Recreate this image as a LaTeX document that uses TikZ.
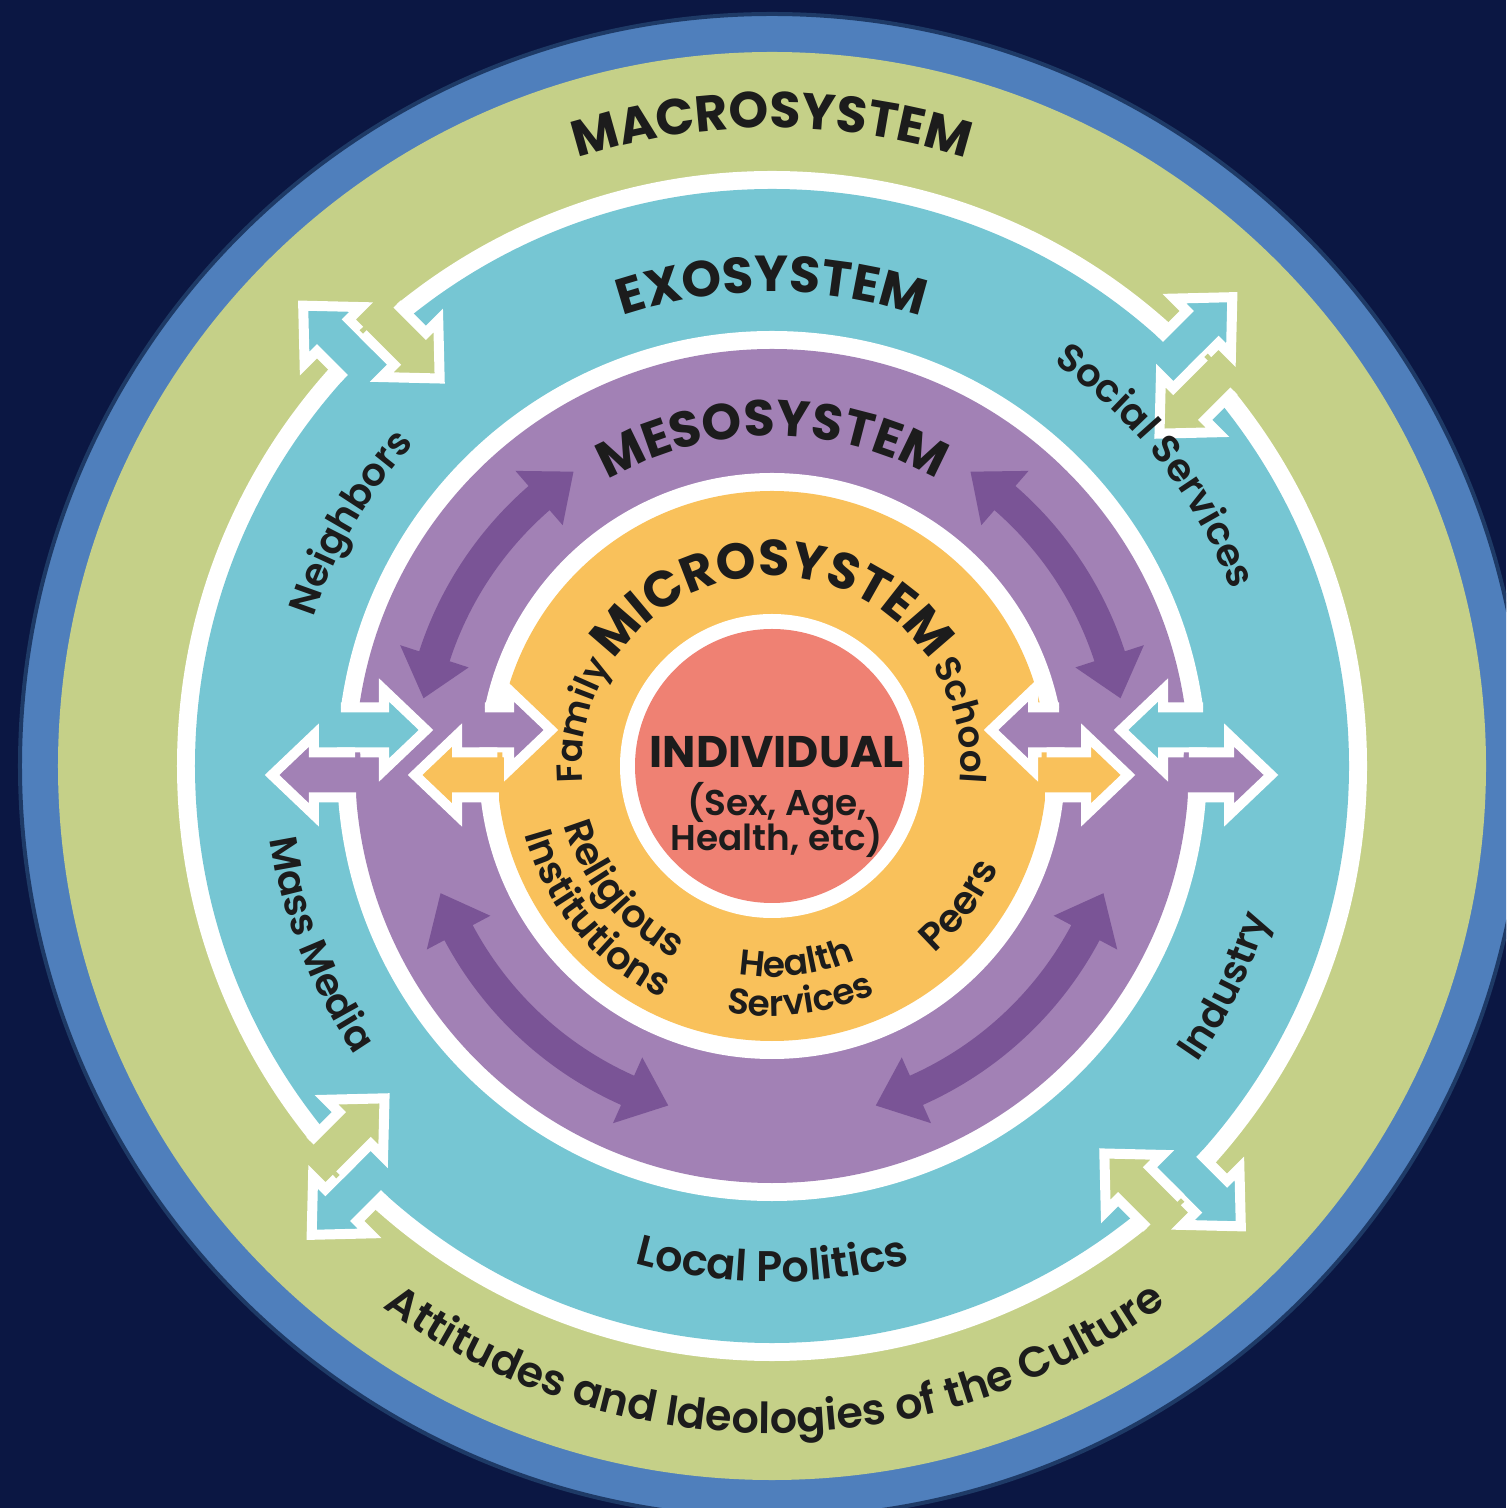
\documentclass[tikz,border=0pt]{standalone}
\usepackage{fontspec}
\setmainfont{Poppins}
\newfontfamily\semifont{Poppins SemiBold}
\usetikzlibrary{positioning,decorations.text}

\definecolor{navy}{HTML}{0B1743}
\definecolor{ringblue}{HTML}{4F7FBC}
\definecolor{ringedge}{HTML}{1E3A66}
\definecolor{macro}{HTML}{C5D088}
\definecolor{exo}{HTML}{76C6D3}
\definecolor{meso}{HTML}{A281B5}
\definecolor{mesodark}{HTML}{7A5496}
\definecolor{micro}{HTML}{F9C15B}
\definecolor{indiv}{HTML}{EF8173}
\definecolor{ink}{HTML}{1C1C1C}

\newcommand{\titlefont}{\bfseries\fontsize{14.4}{14.4}\selectfont}
\newcommand{\itemfont}{\semifont\fontsize{11}{11}\selectfont}
\newcommand{\bigitemfont}{\semifont\fontsize{12.2}{12.2}\selectfont}
\newcommand{\smallitemfont}{\semifont\fontsize{10.2}{10.2}\selectfont}
\newcommand{\traitfont}{\semifont\fontsize{10.2}{10}\selectfont\lineskiplimit=-10pt}

% arrow through a ring border: colour, direction, offset, tail radius, tip radius
\newcommand{\blockarrow}[5]{%
  \pgfmathsetmacro\ya{#3-0.225}%
  \pgfmathsetmacro\yb{#3+0.225}%
  \pgfmathsetmacro\yc{#3-0.40}%
  \pgfmathsetmacro\yd{#3+0.40}%
  \pgfmathsetmacro\rf{#5>#4 ? #4-0.05 : #4+0.05}%
  \pgfmathsetmacro\xa{sqrt((#4)*(#4)-(\ya)*(\ya))}%
  \pgfmathsetmacro\xb{sqrt((#4)*(#4)-(\yb)*(\yb))}%
  \pgfmathsetmacro\xfa{sqrt((\rf)*(\rf)-(\ya)*(\ya))}%
  \pgfmathsetmacro\xfb{sqrt((\rf)*(\rf)-(\yb)*(\yb))}%
  \pgfmathsetmacro\xh{#5>#4 ? #5-0.42 : #5+0.42}%
  \begin{scope}[rotate=#2]
    \fill[#1] (\xfa,\ya) -- (\xh,\ya) -- (\xh,\yc) -- (#5,#3) -- (\xh,\yd) -- (\xh,\yb) -- (\xfb,\yb) -- cycle;
    \draw[outline] (\xa,\ya) -- (\xh,\ya) -- (\xh,\yc) -- (#5,#3) -- (\xh,\yd) -- (\xh,\yb) -- (\xb,\yb);
  \end{scope}
}

% curved double arrow inside the mesosystem ring
\newcommand{\mesoarrow}[2]{%
  \fill[mesodark] ({#1+7}:3.39) arc[start angle={#1+7}, end angle={#2-7}, radius=3.39]
    -- ({#2-7}:3.19) -- (#2:3.55) -- ({#2-7}:3.91) -- ({#2-7}:3.71)
    arc[start angle={#2-7}, end angle={#1+7}, radius=3.71]
    -- ({#1+7}:3.91) -- (#1:3.55) -- ({#1+7}:3.19) -- cycle;
}

\begin{document}
\begin{tikzpicture}[
    outline/.style={draw=white, line width=1mm},
    ringtext/.style={decorate, decoration={text along path, text={#1}, text align=center, text color=ink}}
  ]
  \clip (-7.72,-7.42) rectangle (7.34,7.66);
  \fill[navy] (-7.72,-7.42) rectangle (7.34,7.66);

  % rings
  \fill[ringblue] (0,0) circle (7.52);
  \draw[ringedge, line width=0.4mm] (0,0) circle (7.52);
  \fill[macro] (0,0) circle (7.14);
  \fill[white] (0,0) circle (5.95);
  \fill[exo] (0,0) circle (5.77);
  \fill[white] (0,0) circle (4.35);
  \fill[meso] (0,0) circle (4.17);
  \fill[white] (0,0) circle (2.93);
  \fill[micro] (0,0) circle (2.75);
  \fill[white] (0,0) circle (1.52);
  \fill[indiv] (0,0) circle (1.37);

  % macro <-> exo
  \blockarrow{exo}{45}{0.06}{5.77}{6.57}
  \blockarrow{macro}{45}{-0.39}{5.95}{5.09}
  \blockarrow{exo}{135}{0.06}{5.77}{6.57}
  \blockarrow{macro}{135}{-0.39}{5.95}{5.09}
  \blockarrow{exo}{225}{0.06}{5.77}{6.57}
  \blockarrow{macro}{225}{-0.39}{5.95}{5.09}
  \blockarrow{exo}{315}{0.06}{5.77}{6.57}
  \blockarrow{macro}{315}{-0.39}{5.95}{5.09}

  % exo <-> meso <-> micro, left and right
  \blockarrow{exo}{180}{-0.36}{4.35}{3.46}
  \blockarrow{meso}{180}{0.09}{4.17}{5.00}
  \blockarrow{meso}{180}{-0.36}{2.93}{2.21}
  \blockarrow{micro}{180}{0.09}{2.75}{3.57}
  \blockarrow{exo}{0}{0.36}{4.35}{3.49}
  \blockarrow{meso}{0}{-0.09}{4.17}{4.99}
  \blockarrow{meso}{0}{0.36}{2.93}{2.19}
  \blockarrow{micro}{0}{-0.09}{2.75}{3.56}

  \mesoarrow{124}{169}
  \mesoarrow{11}{56}
  \mesoarrow{201}{253}
  \mesoarrow{287}{339}

  % ring titles
  \path[ringtext={|\titlefont|MACROSYSTEM}] (170:6.38) arc[start angle=170, end angle=10, radius=6.38];
  \path[ringtext={|\titlefont|EXOSYSTEM}] (170:4.74) arc[start angle=170, end angle=10, radius=4.74];
  \path[ringtext={|\titlefont|MESOSYSTEM}] (170:3.30) arc[start angle=170, end angle=10, radius=3.30];
  \path[ringtext={|\titlefont|MICROSYSTEM}] (180:1.90) arc[start angle=180, end angle=0, radius=1.90];

  % exosystem
  \path[ringtext={|\itemfont|Neighbors}] (185:4.82) arc[start angle=185, end angle=115, radius=4.82];
  \path[ringtext={|\itemfont|Social Services}] (78:4.92) arc[start angle=78, end angle=-2, radius=4.92];
  \path[ringtext={|\itemfont|Mass Media}] (166.5:5.07) arc[start angle=166.5, end angle=236.5, radius=5.07];
  \path[ringtext={|\itemfont|Industry}] (-60.9:5.19) arc[start angle=-60.9, end angle=9.1, radius=5.19];
  \path[ringtext={|\bigitemfont|Local Politics}] (235:5.16) arc[start angle=235, end angle=305, radius=5.16];

  % macrosystem
  \path[ringtext={|\bigitemfont|Attitudes and Ideologies of the Culture}] (200.3:6.67) arc[start angle=200.3, end angle=340.3, radius=6.67];

  % microsystem
  \path[ringtext={|\smallitemfont|Family}] (210:1.90) arc[start angle=210, end angle=123, radius=1.90];
  \path[ringtext={|\smallitemfont|School}] (57:1.89) arc[start angle=57, end angle=-30, radius=1.89];
  \path[ringtext={|\itemfont|Religious}] (170:2.16) arc[start angle=170, end angle=269, radius=2.16];
  \path[ringtext={|\itemfont|Institutions}] (165:2.57) arc[start angle=165, end angle=275, radius=2.57];
  \path[ringtext={|\smallitemfont|Health}] (247:2.11) arc[start angle=247, end angle=307, radius=2.11];
  \path[ringtext={|\smallitemfont|Services}] (242:2.50) arc[start angle=242, end angle=312, radius=2.50];
  \path[ringtext={|\itemfont|Peers}] (-66.6:2.48) arc[start angle=-66.6, end angle=-6.6, radius=2.48];

  % individual
  \node[text=ink, font=\bfseries\fontsize{12.6}{13}\selectfont] (individual) at (0.05,0.14) {INDIVIDUAL};
  \node[text=ink, font=\traitfont, align=center, below=-0.1cm of individual] (traits) {(Sex, Age,\\Health, etc)};
\end{tikzpicture}
\end{document}
